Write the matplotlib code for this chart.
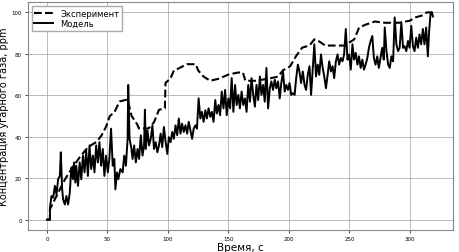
import numpy as np
import matplotlib.pyplot as plt

# experiment (dashed), time in s, CO concentration in ppm
t_exp = [0, 2.5, 2.5, 6.5, 10.7, 15, 21, 27, 34, 41, 45, 49, 52, 56, 60, 66.6,
         70, 74.6, 76, 84, 88.5, 92.6, 97.5, 98, 102, 105, 109, 115.6, 123, 125,
         129.5, 135, 142, 150, 158, 162, 164, 172, 183, 191, 195, 201, 206, 211,
         217, 221, 225, 230, 238, 246, 254, 258, 263, 271, 279, 291, 300, 304,
         310, 314, 318, 320]
c_exp = [0, 0, 5, 9.7, 14.6, 19.5, 25, 30, 35, 37.5, 40.5, 45, 50, 52, 57, 58,
         50, 46, 44, 44, 47, 53, 53.7, 66, 68, 72, 73, 75, 75, 72,
         69, 67, 68, 70, 71, 71, 67, 67, 68, 69, 72, 74, 79, 83,
         84, 87, 86, 84, 84, 84, 87, 92.7, 94, 95.6, 95, 95, 96, 97.5,
         98.5, 100, 100, 99]

t_mod = [0, 2.5, 2.5, 3.8, 5.2, 6.6, 7.9, 9.3, 10.7, 11.5, 12.6, 13.4, 14.8,
         16.1, 17.5, 18.9, 20.2, 21.6, 22.4, 23.5, 24.3, 25.7, 27.1, 28.4,
         29.8, 31.1, 32.5, 33.9, 35.2, 36.6, 38.0, 39.3, 40.7, 42.1, 43.4,
         44.8, 46.2, 47.5, 48.9, 50.3, 51.6, 53.0, 54.4, 55.7, 56.6, 57.9,
         59.0, 60.7, 62.6, 63.9, 65.3, 66.7, 67.2, 68.3, 69.9, 70.8, 72.1,
         73.5, 74.9, 76.2, 77.6, 79.0, 80.3, 81.0,
         81.7, 83.1, 84.4, 85.8, 87.2, 88.5, 89.9, 91.3, 92.6, 94.0, 95.3,
         96.7, 98.1, 99.5, 100.8, 102.2, 103.6, 104.9, 106.3, 107.7, 109.0,
         110.4, 111.7, 113.1, 114.5, 115.9, 117.2, 118.6, 120.0, 121.3, 122.7,
         124.0, 125.4, 126.8, 128.1, 129.5, 130.9, 132.2, 133.6, 135.0, 136.3,
         137.7, 139.1, 140.4, 141.8, 143.1, 144.5, 145.9, 147.3, 148.6, 150.0,
         151.4, 152.7, 154.1, 155.5, 156.8, 158.2, 159.5, 160.9,
         162.3, 163.7, 165.0, 166.4, 167.8, 169.1, 170.5, 171.9, 173.2, 174.6,
         176.0, 177.3, 178.7, 180.0, 181.4, 182.8, 184.2, 185.5, 186.9, 188.3,
         189.6, 191.0, 192.4, 193.7, 195.1, 196.5, 197.8, 199.2, 200.5, 201.9,
         203.3, 204.7, 206.0, 207.4, 208.7, 210.1, 211.5, 212.9, 214.2, 215.6,
         217.0, 218.3, 219.7, 221.0, 222.4, 223.8, 225.1, 226.5, 227.9, 229.2,
         230.6, 232.0, 233.3, 234.7, 236.1, 237.4, 238.8, 240.2, 241.5, 242.9,
         244.3, 245.6, 247.0, 248.4, 249.7, 251.1, 252.5, 253.8, 255.2, 256.6,
         257.9, 259.3, 260.7, 262.0, 263.4, 264.8, 266.1, 267.5, 268.9, 270.2,
         271.6, 273.0, 274.3, 275.7, 277.1, 278.4, 279.2, 280.6, 282.0, 283.3,
         284.7, 286.1, 287.4, 288.8, 290.2, 291.5, 292.9, 294.3, 295.6, 297.0,
         298.4, 299.7, 301.1, 302.5, 303.8, 305.2, 306.6, 307.9, 309.3, 310.7,
         312.0, 313.4, 314.8, 315.9, 317.0, 318.1, 319.0]
c_mod = [0, 0, 5.7, 11.4, 10.6, 16.3, 12.2, 19.5, 21.1, 32.5, 14.6, 9.8, 7.3,
         11.4, 7.3, 13.0, 25.2, 19.5, 27.6, 17.9, 26.0, 16.3, 27.6, 19.5,
         30.9, 22.8, 33.3, 21.1, 35.8, 24.4, 30.9, 22.8, 35.8, 27.6, 37.4,
         26.0, 34.1, 21.1, 30.9, 22.8, 29.3, 43.9, 26.0, 29.3, 14.6, 22.8,
         19.5, 24.4, 22.8, 30.9, 26.0, 39.0, 65.0, 39.0, 34.1, 29.3, 35.8,
         27.6, 34.1, 29.3, 40.7, 30.9, 35.8, 53.0,
         34.1, 43.1, 35.8, 39.0, 45.5, 34.1, 37.4, 32.5, 35.8, 41.5, 35.0,
         44.7, 37.4, 31.7, 39.8, 37.4, 42.3, 39.0, 45.5, 40.7, 48.8,
         41.5, 46.3, 42.3, 45.5, 41.5, 47.2, 43.1, 39.0, 43.9, 45.5,
         43.9, 58.5, 48.8, 52.0, 47.2, 52.8, 48.8, 53.7, 49.6, 52.0,
         47.2, 57.7, 51.2, 55.3, 50.4, 61.8, 53.7, 62.6, 50.4, 58.5,
         53.7, 68.3, 52.0, 65.0, 55.3, 60.2, 53.7, 61.8,
         55.3, 58.5, 52.0, 65.0, 56.9, 68.3, 60.2, 54.5, 65.0, 57.7,
         69.1, 60.2, 65.0, 56.9, 73.2, 53.7, 63.4, 66.7, 62.6, 67.5,
         63.4, 66.7, 58.5, 65.9, 71.5, 61.8, 65.0, 62.6, 65.9, 60.2,
         61.0, 60.2, 68.3, 74.8, 71.5, 65.9, 71.5, 65.0, 62.6, 69.9,
         74.0, 60.2, 73.2, 84.6, 69.1, 74.8, 69.9, 79.7, 73.2, 69.1,
         63.4, 69.9, 76.4, 71.5, 74.0, 68.3, 76.4, 79.7, 74.8, 78.0,
         76.4, 79.7, 92.0, 77.2, 79.7, 72.4, 84.6, 77.2, 80.5, 74.8,
         78.8, 73.2, 77.2, 72.4, 74.8, 78.0, 82.9, 86.2, 88.6, 78.0,
         74.8, 78.8, 73.2, 78.0, 82.9, 77.2, 92.7, 81.3, 74.8, 73.2,
         78.8, 76.4, 97.6, 84.6, 81.3, 82.9, 95.1, 82.9, 83.7, 81.3,
         86.2, 82.9, 93.5, 83.7, 81.3, 87.8, 82.9, 89.4, 84.6, 92.0,
         84.6, 92.7, 78.8, 91.1, 99.2, 100, 98]

fig, ax = plt.subplots(figsize=(4.59, 2.53), dpi=100)
ax.plot(t_exp, c_exp, 'k--', lw=1.5, label='Эксперимент')
ax.plot(t_mod, c_mod, 'k-', lw=1.4, label='Модель')

ax.set_xlabel('Время, с', fontsize=7.5, labelpad=1)
ax.set_ylabel('Концентрация угарного газа, ppm', fontsize=7, labelpad=2)
ax.tick_params(labelsize=4, length=2, width=0.5, pad=2)
ax.grid(True, color='#b0b0b0', lw=0.6)
for s in ax.spines.values():
    s.set_color('#888888')
    s.set_linewidth(0.8)
ax.legend(loc='upper left', fontsize=6, handlelength=2.3, borderpad=0.3,
          labelspacing=0.2, fancybox=False, framealpha=1, edgecolor='#aaaaaa')

fig.subplots_adjust(left=0.06, right=0.988, bottom=0.087, top=0.988)
fig.savefig('out.png')
